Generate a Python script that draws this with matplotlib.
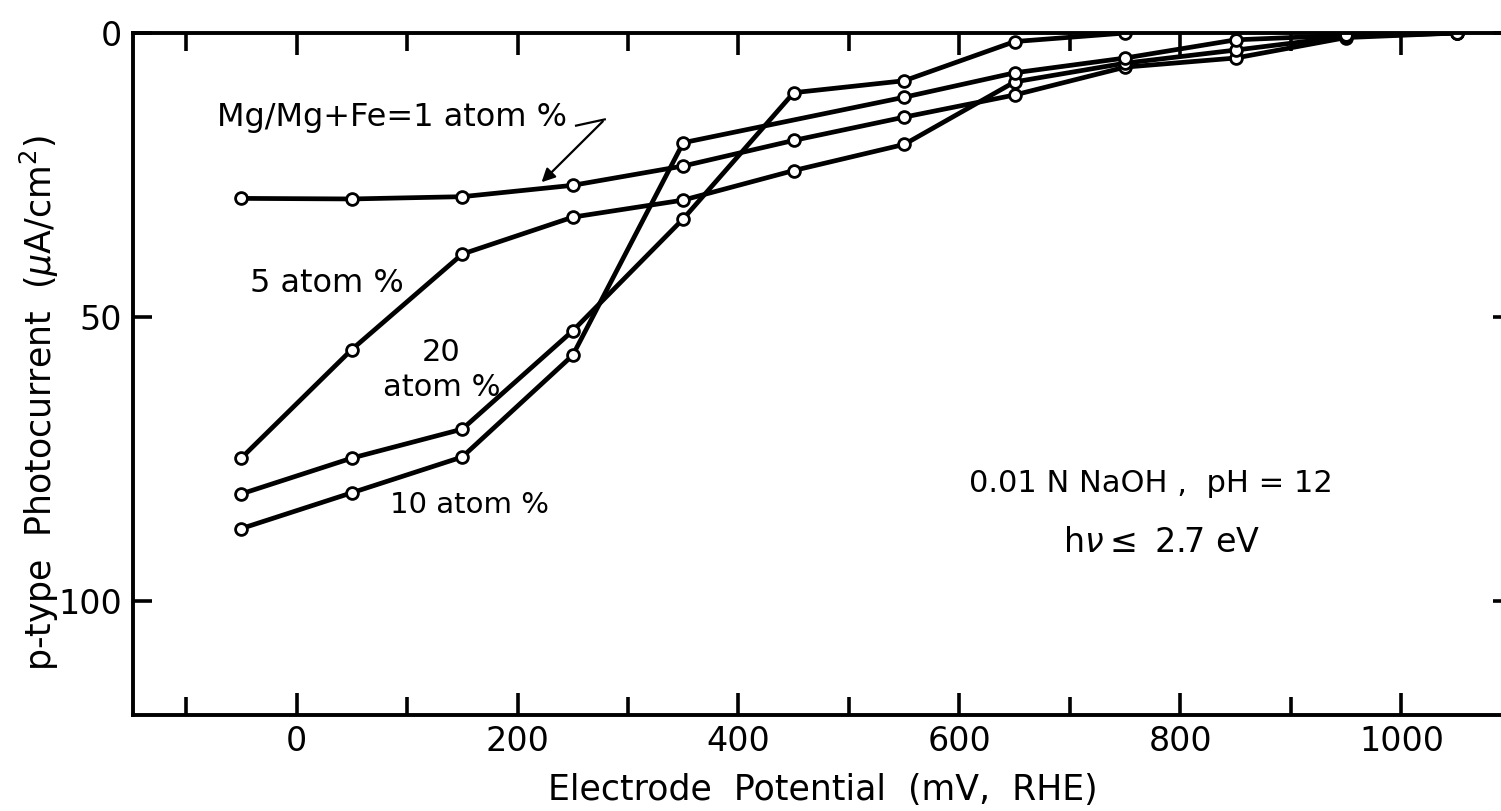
import matplotlib
matplotlib.use('Agg')
import matplotlib.pyplot as plt
import numpy as np

plt.rcParams['font.family'] = 'DejaVu Sans'
plt.rcParams['mathtext.fontset'] = 'dejavusans'

# electrode potential (mV, RHE) of the measured points
potential = [-50, 50, 150, 250, 350, 450, 550, 650, 750, 850, 950, 1050]
potential_10 = [-50, 50, 150, 250, 350, 550, 650, 750, 850, 950, 1050]  # no marker at 450
potential_20 = [-50, 50, 150, 250, 350, 450, 550, 650, 750]

# p-type photocurrent (uA/cm2)
cur_1 = [29.1, 29.2, 28.8, 26.8, 23.4, 18.9, 14.8, 10.9, 6.0, 4.4, 0.8, 0.0]
cur_5 = [74.8, 55.7, 38.9, 32.4, 29.4, 24.2, 19.6, 8.6, 5.3, 3.0, 0.6, 0.0]
cur_10 = [87.2, 80.9, 74.6, 56.7, 19.3, 11.3, 7.0, 4.4, 1.2, 0.4, 0.0]
cur_20 = [81.1, 74.8, 69.7, 52.4, 32.7, 10.5, 8.4, 1.5, 0.0]

x_major = [0, 200, 400, 600, 800, 1000]
x_minor = [-100, 100, 300, 500, 700, 900]
y_ticks = [0, 50, 100]

fig = plt.figure(figsize=(15.01, 8.11), dpi=100)
ax = fig.add_axes([0.0886, 0.1184, 0.9187, 0.8409])

style = dict(color='black', lw=3.4, marker='o', ms=8.5, mfc='white',
             mec='black', mew=2.0, solid_joinstyle='round')
ax.plot(potential, cur_1, **style)
ax.plot(potential, cur_5, **style)
ax.plot(potential_10, cur_10, **style)
ax.plot(potential_20, cur_20, **style)

ax.set_xlim(-148, 1100)
ax.set_ylim(120, 0)

ax.set_xticks(x_major)
ax.set_xticks(x_minor, minor=True)
ax.set_yticks(y_ticks)
ax.tick_params(axis='x', which='major', direction='in', length=16, width=2.6,
               top=True, labelsize=24, pad=7)
ax.tick_params(axis='x', which='minor', direction='in', length=13, width=2.6,
               top=True)
ax.tick_params(axis='y', direction='in', length=14, width=2.6, right=True,
               labelsize=24, pad=8)
for s in ['left', 'bottom', 'top']:
    ax.spines[s].set_linewidth(2.8)
ax.spines['right'].set_visible(False)

ax.set_xlabel('Electrode  Potential  (mV,  RHE)', fontsize=25, labelpad=11)
ax.set_ylabel(r'p-type  Photocurrent  ($\mu$A/cm$^2$)', fontsize=25)
ax.yaxis.set_label_coords(-0.052, 0.457)

fs = 23
ax.text(-72, 14.9, 'Mg/Mg+Fe=1 atom %', fontsize=fs, ha='left', va='center')
ax.plot([253, 279], [16.3, 15.2], color='black', lw=1.6)
ax.annotate('', xy=(220, 26.6), xytext=(279, 15.2),
            arrowprops=dict(arrowstyle='-|>', color='black', lw=1.6,
                            mutation_scale=20))
ax.text(-42, 44.1, '5 atom %', fontsize=fs, ha='left', va='center')
ax.text(131, 56.2, '20', fontsize=22, ha='center', va='center')
ax.text(131, 62.4, 'atom %', fontsize=22, ha='center', va='center')
ax.text(84.6, 83.0, '10 atom %', fontsize=21, ha='left', va='center')
ax.text(773, 79.2, '0.01 N NaOH ,  pH = 12', fontsize=22, ha='center', va='center')
ax.text(783, 89.7, r'h$\nu$$\leq$ 2.7 eV', fontsize=24, ha='center', va='center')

fig.savefig('out.png', dpi=100)
